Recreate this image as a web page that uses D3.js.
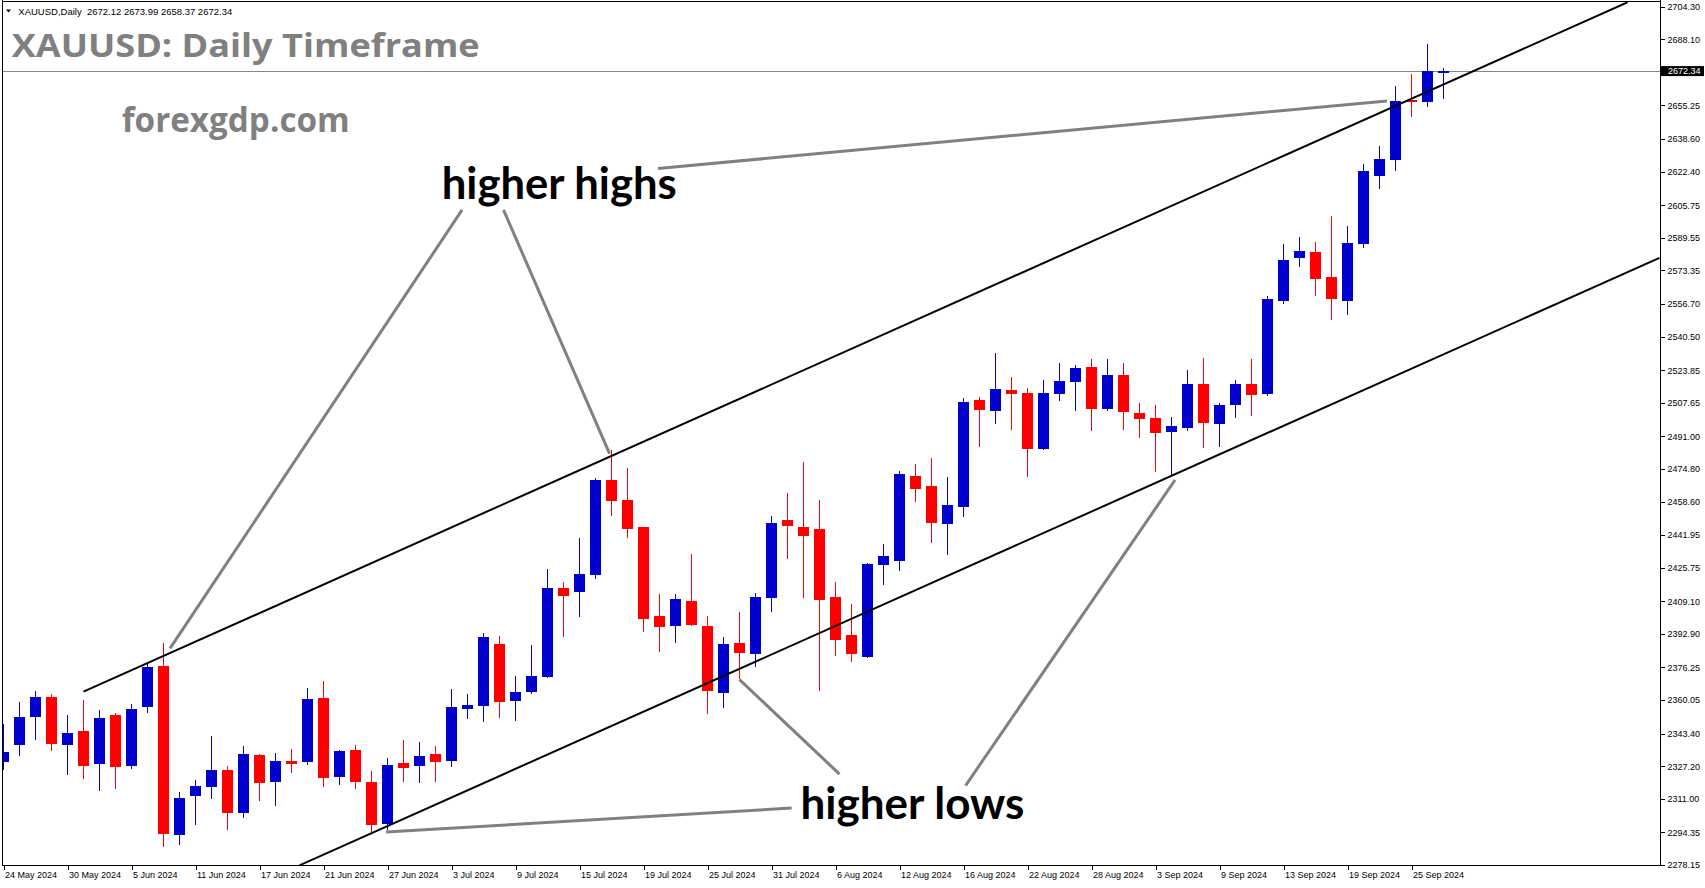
<!DOCTYPE html>
<html><head><meta charset="utf-8">
<script src="https://cdn.jsdelivr.net/npm/d3@7"></script>
<style>html,body{margin:0;padding:0;background:#fff;overflow:hidden}</style>
</head><body>
<svg id="chart" width="1705" height="888"></svg>
<script>
// ---------------- DATA ----------------
const symbol = "XAUUSD,Daily";
const dates = ["2024-05-24",
"2024-05-27","2024-05-28","2024-05-29","2024-05-30","2024-05-31",
"2024-06-03","2024-06-04","2024-06-05","2024-06-06","2024-06-07",
"2024-06-10","2024-06-11","2024-06-12","2024-06-13","2024-06-14",
"2024-06-17","2024-06-18","2024-06-19","2024-06-20","2024-06-21",
"2024-06-24","2024-06-25","2024-06-26","2024-06-27","2024-06-28",
"2024-07-01","2024-07-02","2024-07-03","2024-07-04","2024-07-05",
"2024-07-08","2024-07-09","2024-07-10","2024-07-11","2024-07-12",
"2024-07-15","2024-07-16","2024-07-17","2024-07-18","2024-07-19",
"2024-07-22","2024-07-23","2024-07-24","2024-07-25","2024-07-26",
"2024-07-29","2024-07-30","2024-07-31","2024-08-01","2024-08-02",
"2024-08-05","2024-08-06","2024-08-07","2024-08-08","2024-08-09",
"2024-08-12","2024-08-13","2024-08-14","2024-08-15","2024-08-16",
"2024-08-19","2024-08-20","2024-08-21","2024-08-22","2024-08-23",
"2024-08-26","2024-08-27","2024-08-28","2024-08-29","2024-08-30",
"2024-09-02","2024-09-03","2024-09-04","2024-09-05","2024-09-06",
"2024-09-09","2024-09-10","2024-09-11","2024-09-12","2024-09-13",
"2024-09-16","2024-09-17","2024-09-18","2024-09-19","2024-09-20",
"2024-09-23","2024-09-24","2024-09-25","2024-09-26","2024-09-27"];
const open = [2329.4,
2337.7,2351.6,2361.6,2337.7,2344.7, 2328.4,2352.6,2327.4,2356.7,2376.9,
2293.2,2312.5,2317.0,2325.3,2304.1, 2332.8,2319.5,2329.8,2329.4,2361.1,
2322.0,2335.2,2319.3,2298.7,2328.8, 2327.4,2333.2,2329.9,2355.7,2357.2,
2387.9,2359.7,2364.2,2371.6,2415.7, 2413.8,2422.1,2469.3,2459.4,2445.9,
2401.8,2396.9,2409.2,2396.8,2363.7, 2388.4,2383.1,2410.9,2449.5,2445.9,
2444.9,2411.2,2392.3,2381.6,2427.2, 2429.2,2471.3,2466.3,2447.6,2456.0,
2509.0,2503.7,2514.0,2512.5,2484.8, 2512.2,2518.1,2525.4,2504.7,2521.4,
2502.6,2500.1,2493.3,2495.1,2517.1, 2497.2,2506.7,2516.9,2512.2,2558.3,
2579.7,2582.5,2570.1,2558.3,2586.6, 2620.4,2628.3,2658.0,2657.1,2672.12];
const high = [2348.1,
2359.1,2364.5,2363.0,2352.6,2360.1, 2355.1,2353.6,2358.1,2379.0,2388.4,
2314.4,2320.3,2342.2,2327.3,2337.2, 2333.2,2333.7,2335.7,2366.0,2369.5,
2335.2,2337.7,2324.8,2331.3,2340.2, 2339.4,2337.2,2365.5,2363.0,2393.2,
2391.8,2372.0,2387.4,2425.1,2418.7, 2440.5,2470.3,2484.2,2475.3,2446.0,
2412.7,2412.7,2432.6,2401.8,2391.3, 2403.8,2413.2,2451.4,2462.8,2478.2,
2459.4,2418.7,2407.7,2428.1,2437.5, 2473.8,2477.2,2480.2,2470.8,2510.0,
2510.5,2532.4,2520.4,2515.0,2518.9, 2527.4,2526.4,2529.4,2529.4,2527.4,
2507.7,2506.5,2500.6,2523.9,2529.9, 2507.5,2518.9,2529.4,2560.7,2586.5,
2589.9,2587.5,2600.4,2595.4,2626.2, 2635.1,2664.9,2670.9,2685.8,2673.99];
const low = [2325.5,
2332.3,2340.2,2334.7,2322.8,2321.0, 2315.0,2316.0,2325.9,2353.7,2287.2,
2288.2,2298.2,2311.1,2295.6,2301.6, 2310.1,2307.5,2324.0,2327.9,2317.0,
2318.0,2316.0,2294.4,2295.5,2319.5, 2319.0,2319.5,2326.9,2350.8,2349.3,
2351.3,2349.8,2363.2,2371.2,2391.5, 2401.4,2420.3,2451.4,2440.7,2394.0,
2384.0,2388.5,2396.9,2353.3,2356.2, 2370.5,2376.6,2403.9,2430.2,2410.9,
2364.7,2382.1,2379.1,2381.1,2417.3, 2424.3,2458.5,2438.2,2432.2,2451.1,
2485.8,2497.3,2494.3,2470.9,2484.3, 2508.5,2503.6,2493.8,2503.7,2494.3,
2490.3,2473.4,2471.3,2493.8,2485.3, 2485.8,2500.2,2501.2,2511.2,2556.8,
2575.1,2560.8,2548.9,2551.4,2584.6, 2613.9,2622.9,2649.7,2654.7,2658.37];
const close = [2334.2,
2351.6,2361.6,2338.4,2343.7,2327.4, 2351.1,2326.9,2355.6,2376.5,2293.7,
2311.4,2317.4,2325.3,2304.1,2333.2, 2319.0,2329.8,2328.4,2360.6,2321.5,
2334.7,2319.5,2298.2,2327.8,2326.5, 2332.3,2329.4,2356.6,2357.6,2391.5,
2359.2,2364.0,2372.0,2415.7,2411.9, 2422.6,2469.3,2459.0,2445.1,2400.4,
2396.5,2410.2,2397.4,2364.7,2387.9, 2383.6,2411.2,2447.9,2446.6,2441.6,
2409.9,2390.0,2383.1,2427.6,2431.6, 2472.3,2465.0,2448.1,2456.9,2508.0,
2504.2,2514.5,2512.2,2484.8,2512.5, 2518.5,2524.9,2504.7,2521.4,2503.2,
2499.7,2492.8,2496.1,2517.1,2497.7, 2506.5,2516.9,2511.6,2559.2,2578.5,
2583.0,2569.2,2559.3,2587.0,2622.7, 2628.7,2657.5,2657.1,2672.4,2672.34];

const priceTicks = [2704.30,2688.10,2655.25,2638.60,2622.40,2605.75,2589.55,2573.35,
2556.70,2540.50,2523.85,2507.65,2491.00,2474.80,2458.60,2441.95,2425.75,2409.10,
2392.90,2376.25,2360.05,2343.40,2327.20,2311.00,2294.35,2278.15];
const dateLabelEvery = 4;
const lastPrice = close[close.length - 1];

// trend channel lines (bar index, price)
const upperChannel = [{k: 5.0, p: 2364.2}, {k: 101.5, p: 2706.5}];
const lowerChannel = [{k: 18.5, p: 2278.0}, {k: 103.5, p: 2579.6}];
// annotation pointer lines (bar index, price)
const pointers = [
  [{k: 28.66, p: 2603.4}, {k: 10.41, p: 2385.7}],
  [{k: 31.25, p: 2603.4}, {k: 37.88, p: 2482.4}],
  [{k: 40.91, p: 2624.0}, {k: 86.47, p: 2657.5}],
  [{k: 46.00, p: 2370.2}, {k: 52.25, p: 2323.3}],
  [{k: 60.13, p: 2317.6}, {k: 73.22, p: 2469.3}],
  [{k: 49.26, p: 2306.4}, {k: 23.91, p: 2294.5}]
];
const notes = [
  {text: "higher highs", k: 27.39, p: 2608.7, w: 235},
  {text: "higher lows",  k: 49.81, p: 2301.0, w: 224}
];
const titleText = "XAUUSD: Daily Timeframe";
const siteText = "forexgdp.com";

// ---------------- LAYOUT ----------------
const W = 1705, H = 888;
const plot = {left: 2.5, top: 1.5, right: 1660.5, bottom: 865.5};
const svg = d3.select("#chart");
const x = d3.scaleLinear().domain([0, 103.5]).range([3.5, 1659.5]);
const y = d3.scaleLinear().domain([2278.15, 2704.30]).range([865, 6.7]);
const axisFont = "'Liberation Sans', Arial, sans-serif";

svg.append("rect").attr("width", W).attr("height", H).attr("fill", "#fff");

svg.append("defs").append("clipPath").attr("id", "plotclip")
  .append("rect").attr("x", 3).attr("y", 2).attr("width", 1657).attr("height", 863);

const g = svg.append("g").attr("clip-path", "url(#plotclip)");

// current price line
g.append("line").attr("x1", plot.left).attr("x2", plot.right)
  .attr("y1", Math.round(y(lastPrice)) + 0.5).attr("y2", Math.round(y(lastPrice)) + 0.5)
  .attr("stroke", "#778899").attr("stroke-width", 1);

// candles
const bars = d3.range(dates.length).map(i => ({i, o: open[i], h: high[i], l: low[i], c: close[i]}));
const up = "#0000CD", dn = "#FF0000";
const cg = g.append("g").attr("shape-rendering", "crispEdges");
cg.selectAll("rect.wick").data(bars).join("rect").attr("class", "wick")
  .attr("x", d => x(d.i) - 0.5).attr("width", 1)
  .attr("y", d => y(d.h)).attr("height", d => Math.max(1, y(d.l) - y(d.h)))
  .attr("fill", d => d.c >= d.o ? up : dn);
cg.selectAll("rect.body").data(bars).join("rect").attr("class", "body")
  .attr("x", d => x(d.i) - 5.5).attr("width", 11)
  .attr("y", d => y(Math.max(d.o, d.c)))
  .attr("height", d => Math.max(1.5, Math.abs(y(d.o) - y(d.c))))
  .attr("fill", d => d.c >= d.o ? up : dn);

// channel lines
const ln = d3.line().x(d => x(d.k)).y(d => y(d.p));
[upperChannel, lowerChannel].forEach(c => {
  g.append("path").attr("d", ln(c)).attr("fill", "none")
    .attr("stroke", "#000").attr("stroke-width", 2);
});
// pointer lines
pointers.forEach(c => {
  g.append("path").attr("d", ln(c)).attr("fill", "none")
    .attr("stroke", "#808080").attr("stroke-width", 3);
});

// annotation texts
notes.forEach(n => {
  g.append("text").attr("x", x(n.k)).attr("y", y(n.p))
    .attr("font-family", "Lato, 'Open Sans', sans-serif").attr("font-weight", 700)
    .attr("font-size", 44).attr("fill", "#000")
    .attr("textLength", n.w).attr("lengthAdjust", "spacingAndGlyphs")
    .text(n.text);
});

// title and site
svg.append("text").attr("x", 11.7).attr("y", 56.7)
  .attr("font-family", "'Open Sans', 'Noto Sans', sans-serif").attr("font-weight", 700)
  .attr("font-size", 33).attr("fill", "#808080")
  .attr("textLength", 468).attr("lengthAdjust", "spacingAndGlyphs")
  .text(titleText);
svg.append("text").attr("x", 121.7).attr("y", 131.7)
  .attr("font-family", "'Open Sans', 'Noto Sans', sans-serif").attr("font-weight", 700)
  .attr("font-size", 34).attr("fill", "#808080")
  .attr("textLength", 228).attr("lengthAdjust", "spacingAndGlyphs")
  .text(siteText);

// header
const L = bars[bars.length - 1];
svg.append("path").attr("d", "M6,9.5 L11,9.5 L8.5,12.5 Z").attr("fill", "#000");
svg.append("text").attr("x", 18.3).attr("y", 14.5)
  .attr("font-family", axisFont).attr("font-size", 9.5).attr("fill", "#000")
  .style("white-space", "pre")
  .text(`${symbol}  ${L.o.toFixed(2)} ${L.h.toFixed(2)} ${L.l.toFixed(2)} ${L.c.toFixed(2)}`);

// frame
const fr = svg.append("g").attr("shape-rendering", "crispEdges").attr("stroke", "#000").attr("stroke-width", 1);
fr.append("line").attr("x1", plot.left).attr("x2", plot.left).attr("y1", 0).attr("y2", plot.bottom);
fr.append("line").attr("x1", plot.left).attr("x2", plot.right).attr("y1", plot.top).attr("y2", plot.top);

// right price axis
const yAxis = d3.axisRight(y).tickValues(priceTicks).tickSize(4).tickPadding(3)
  .tickFormat(d => d.toFixed(2));
const ya = svg.append("g").attr("transform", `translate(${plot.right},0)`).call(yAxis);
ya.select(".domain").attr("d", `M0,0V${plot.bottom}`).attr("stroke", "#000").attr("shape-rendering", "crispEdges");
ya.selectAll(".tick line").attr("stroke", "#000").attr("shape-rendering", "crispEdges");
ya.selectAll(".tick text").attr("font-family", axisFont).attr("font-size", 9).attr("fill", "#000");

// last price label
const lp = svg.append("g");
lp.append("rect").attr("x", plot.right + 0.5).attr("y", y(lastPrice) - 5).attr("width", 43).attr("height", 10)
  .attr("fill", "#000");
lp.append("text").attr("x", plot.right + 7.5).attr("y", y(lastPrice)).attr("dy", "0.35em")
  .attr("font-family", axisFont).attr("font-size", 9).attr("fill", "#fff")
  .text(lastPrice.toFixed(2));

// bottom time axis
const fmt = d3.timeFormat("%-d %b %Y"), parse = d3.timeParse("%Y-%m-%d");
const labelIdx = d3.range(0, dates.length, dateLabelEvery);
const xAxis = d3.axisBottom(x).tickValues(labelIdx).tickSize(4).tickPadding(2)
  .tickFormat(i => fmt(parse(dates[i])));
const xa = svg.append("g").attr("transform", `translate(0,${plot.bottom})`).call(xAxis);
xa.select(".domain").attr("d", `M${plot.left},0H${plot.right}`).attr("stroke", "#000").attr("shape-rendering", "crispEdges");
xa.selectAll(".tick line").attr("stroke", "#000").attr("shape-rendering", "crispEdges");
xa.selectAll(".tick text").attr("font-family", axisFont).attr("font-size", 9).attr("fill", "#000")
  .attr("text-anchor", "start").attr("x", 1);
</script>
</body></html>
